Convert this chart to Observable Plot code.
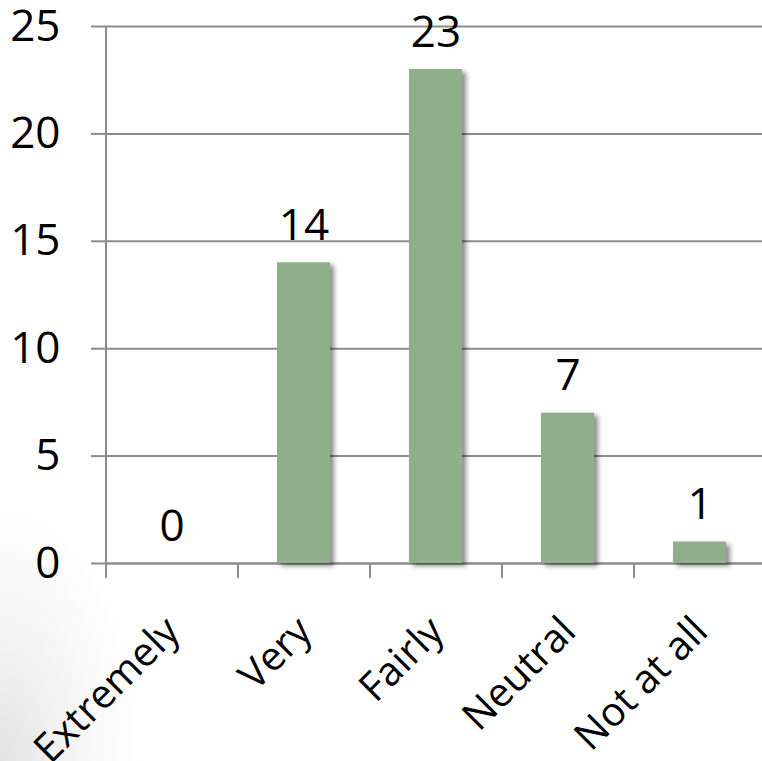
<!DOCTYPE html>
<html>
<head>
<meta charset="utf-8">
<script src="https://cdn.jsdelivr.net/npm/d3@7"></script>
<script src="https://cdn.jsdelivr.net/npm/@observablehq/plot@0.6"></script>
<style>
  html, body { margin: 0; padding: 0; }
  body {
    width: 762px; height: 761px; overflow: hidden;
    background: radial-gradient(ellipse 140px 260px at 0 100%, #e2e2e2 0%, #f3f3f3 45%, #ffffff 100%);
    font-family: "Open Sans", sans-serif;
  }
  #chart svg { display: block; }
</style>
</head>
<body>
<div id="chart"></div>
<script>
// Survey responses: how strongly respondents agree
const categories = ["Extremely", "Very", "Fairly", "Neutral", "Not at all"];
const counts = [0, 14, 23, 7, 1];
const yTicks = [0, 5, 10, 15, 20, 25];

const data = categories.map((c, i) => ({category: c, count: counts[i]}));

const barColor = "#8faf8b";
const axisColor = "#8c8c8c";
const fontSize = 44;
const labelSize = 40;

const step = 132; // width of one category band
const chart = Plot.plot({
  width: 762,
  height: 761,
  marginLeft: 105,
  marginTop: 26,
  marginBottom: 198,
  marginRight: 0,
  style: {background: "transparent", fontFamily: "'Open Sans', sans-serif", fontSize: fontSize + "px", color: "#000"},
  x: {domain: categories, range: [105, 105 + step * categories.length], paddingInner: 0.6, paddingOuter: 0.3, axis: null, label: null},
  y: {domain: [0, 25], ticks: yTicks, axis: null, label: null},
  marks: [
    // horizontal gridlines
    Plot.gridY(yTicks, {stroke: axisColor, strokeOpacity: 1, strokeWidth: 2}),
    // y axis ticks and labels
    Plot.axisY(yTicks, {tickSize: 14, tickPadding: 31, stroke: axisColor, strokeWidth: 2, fontSize, tickFormat: d => d, label: null}),
    // vertical axis line
    Plot.ruleX([categories[0]], {dx: -step / 2, y1: 0, y2: 25, stroke: axisColor, strokeWidth: 2}),
    // category boundary ticks below the baseline
    Plot.axisX(categories, {tickSize: 15, dx: -step / 2, tickFormat: () => "", stroke: axisColor, strokeWidth: 2, label: null}),
    Plot.ruleY([0], {stroke: axisColor, strokeWidth: 2}),
    // bars
    Plot.barY(data, {x: "category", y: "count", fill: barColor}),
    // value labels
    Plot.text(data, {x: "category", y: "count", text: d => String(d.count), dy: -37, fontSize, fill: "#000"}),
    // rotated category labels
    Plot.text(categories, {x: d => d, frameAnchor: "bottom", rotate: -45, textAnchor: "end", dx: 10, dy: 70, fontSize: labelSize, fill: "#000"})
  ]
});

// soft drop shadow behind the bars
const ns = "http://www.w3.org/2000/svg";
const defs = document.createElementNS(ns, "defs");
defs.innerHTML = '<filter id="barShadow" x="-30%" y="-30%" width="160%" height="160%">' +
  '<feDropShadow dx="4" dy="3" stdDeviation="2.5" flood-color="#000" flood-opacity="0.45"/></filter>';
chart.insertBefore(defs, chart.firstChild);
const bars = chart.querySelector('g[aria-label="bar"]');
if (bars) bars.setAttribute("filter", "url(#barShadow)");

document.getElementById("chart").appendChild(chart);
</script>
</body>
</html>
